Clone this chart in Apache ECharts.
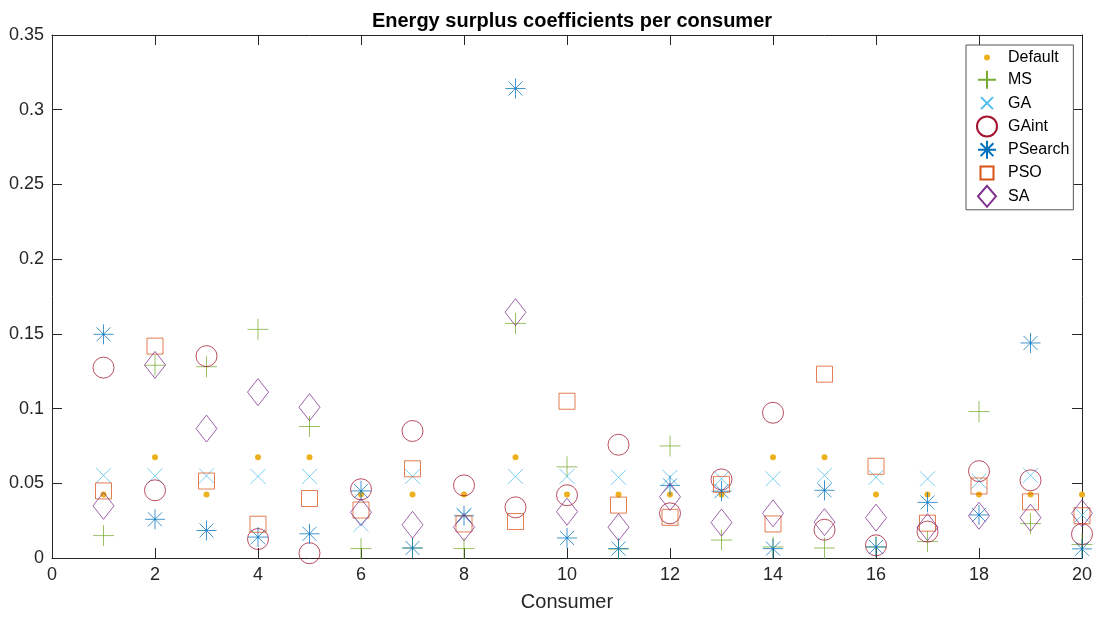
<!DOCTYPE html>
<html>
<head>
<meta charset="utf-8">
<script src="https://cdn.jsdelivr.net/npm/echarts@6/dist/echarts.min.js"></script>
<style>html,body{margin:0;padding:0;background:#fff}#c{width:1097px;height:617px}</style>
</head>
<body>
<div id="c"></div>
<script>
const consumers = [1,2,3,4,5,6,7,8,9,10,11,12,13,14,15,16,17,18,19,20];
const seriesNames = ['Default','MS','GA','GAint','PSearch','PSO','SA'];
const xTicks = [0,2,4,6,8,10,12,14,16,18,20];
const yTicks = [0,0.05,0.1,0.15,0.2,0.25,0.3,0.35];

const valDefault = [0.0425,0.0675,0.0425,0.0675,0.0675,0.0425,0.0425,0.0425,0.0675,0.0425,0.0425,0.0425,0.0425,0.0675,0.0675,0.0425,0.0425,0.0425,0.0425,0.0425];
const valMS      = [0.015,0.129,0.128,0.153,0.088,0.0063,0.0067,0.0063,0.157,0.061,0.006,0.075,0.012,0.0074,0.0067,0.0074,0.011,0.098,0.023,0.009];
const valGA      = [0.0553,0.055,0.055,0.0546,0.0546,0.0226,0.0546,0.0288,0.0546,0.0546,0.054,0.054,0.053,0.053,0.0553,0.054,0.053,0.0515,0.0553,0.0288];
const valGAint   = [0.1274,0.0453,0.1351,0.0127,0.0032,0.046,0.085,0.0486,0.0339,0.042,0.0758,0.0299,0.0526,0.0972,0.0189,0.0085,0.0177,0.0581,0.052,0.016];
const valPSearch = [0.1497,0.0259,0.0184,0.014,0.0162,0.0449,0.0067,0.0283,0.3142,0.0134,0.0063,0.0486,0.0447,0.0063,0.0453,0.0074,0.0372,0.0288,0.1439,0.0061];
const valPSO     = [0.0449,0.1418,0.0515,0.0226,0.0398,0.0321,0.0597,0.0228,0.0244,0.1049,0.0354,0.0272,0.0493,0.0228,0.123,0.0614,0.0233,0.0482,0.0376,0.0283];
const valSA      = [0.0349,0.1292,0.0866,0.111,0.1009,0.0306,0.0222,0.0206,0.1645,0.031,0.0206,0.0409,0.0237,0.0299,0.024,0.027,0.0206,0.0283,0.027,0.0299];

const allVals = [valDefault,valMS,valGA,valGAint,valPSearch,valPSO,valSA];
const colors = ['#EDB120','#77AC30','#4DBEEE','#A2142F','#0072BD','#D95319','#7E2F8E'];
const symbols = [
  'circle',
  'path://M10,0 L10,20 M0,10 L20,10',
  'path://M0,0 L16,16 M16,0 L0,16',
  'circle',
  'path://M10,0 L10,20 M0,10 L20,10 M3,3 L17,17 M17,3 L3,17',
  'rect',
  'path://M10,0 L20,13.5 L10,27 L0,13.5 Z'
];
const sizes = [6,21,15,21,20,16,[21,27]];
const filled = [true,false,false,false,false,false,false];
const legendIcons = [
  'path://M0,0 M32,21 M13,10.5 A3,3 0 1,1 19,10.5 A3,3 0 1,1 13,10.5 Z',
  'path://M0,0 M32,21 M16,1.5 L16,19.5 M7,10.5 L25,10.5',
  'path://M0,0 M32,21 M10,4.5 L22,16.5 M22,4.5 L10,16.5',
  'path://M0,0 M32,21 M6,10.5 A10,10 0 1,1 26,10.5 A10,10 0 1,1 6,10.5 Z',
  'path://M0,0 M32,21 M16,1.5 L16,19.5 M7,10.5 L25,10.5 M9.6,4.1 L22.4,16.9 M22.4,4.1 L9.6,16.9',
  'path://M0,0 M32,21 M9.5,4 L22.5,4 L22.5,17 L9.5,17 Z',
  'path://M0,0 M32,21 M16,0 L25,10.5 L16,21 L7,10.5 Z'
];

const FONT = 'Liberation Sans, Arial, Helvetica, sans-serif';
const AX = '#262626';

const series = seriesNames.map((n,i)=>({
  name:n, type:'scatter', xAxisIndex:0, yAxisIndex:0,
  symbol:symbols[i], symbolSize:sizes[i],
  data: consumers.map((c,j)=>[c, allVals[i][j]]),
  itemStyle: filled[i] ? {color:colors[i], borderWidth:0, opacity:1}
                       : {color:'rgba(0,0,0,0)', borderColor:colors[i], borderWidth:0.75, opacity:1},
  emphasis:{disabled:true},
  z: 2+i
}));

const fmtY = v => String(+v.toFixed(2));
const chart = echarts.init(document.getElementById('c'), null, {renderer:'canvas'});
chart.setOption({
  animation:false,
  backgroundColor:'#fff',
  title:{text:'Energy surplus coefficients per consumer', left:567, top:6, textAlign:'center',
    textStyle:{fontFamily:FONT, fontSize:20, fontWeight:'bold', color:'#000'}},
  grid:{left:52, right:15, top:35, bottom:53, containLabel:false},
  legend:{
    orient:'vertical', left:966, top:45,
    padding:[2,4,2,4], itemWidth:32, itemHeight:21, itemGap:0.3,
    backgroundColor:'#fff', borderColor:'#555', borderWidth:1,
    textStyle:{fontFamily:FONT, fontSize:16, color:'#000', lineHeight:16},
    data: seriesNames.map((n,i)=>({name:n, icon:legendIcons[i]}))
  },
  xAxis:[
    {type:'value', min:0, max:20, interval:2, position:'bottom',
     name:'Consumer', nameLocation:'middle', nameGap:34,
     nameTextStyle:{fontFamily:FONT, fontSize:20, color:AX},
     axisLine:{show:true, lineStyle:{color:AX, width:1}},
     axisTick:{show:true, inside:true, length:10, lineStyle:{color:AX}},
     axisLabel:{fontFamily:FONT, fontSize:18, color:AX, margin:8},
     splitLine:{show:false}},
    {type:'value', min:0, max:20, interval:2, position:'top',
     axisLine:{show:true, onZero:false, lineStyle:{color:AX, width:1}},
     axisTick:{show:true, inside:true, length:10, lineStyle:{color:AX}},
     axisLabel:{show:false}, splitLine:{show:false}}
  ],
  yAxis:[
    {type:'value', min:0, max:0.35, interval:0.05, position:'left',
     axisLine:{show:true, lineStyle:{color:AX, width:1}},
     axisTick:{show:true, inside:true, length:10, lineStyle:{color:AX}},
     axisLabel:{fontFamily:FONT, fontSize:18, color:AX, margin:8, formatter:fmtY},
     splitLine:{show:false}},
    {type:'value', min:0, max:0.35, interval:0.05, position:'right',
     axisLine:{show:true, onZero:false, lineStyle:{color:AX, width:1}},
     axisTick:{show:true, inside:true, length:10, lineStyle:{color:AX}},
     axisLabel:{show:false}, splitLine:{show:false}}
  ],
  series: series
});
</script>
</body>
</html>
